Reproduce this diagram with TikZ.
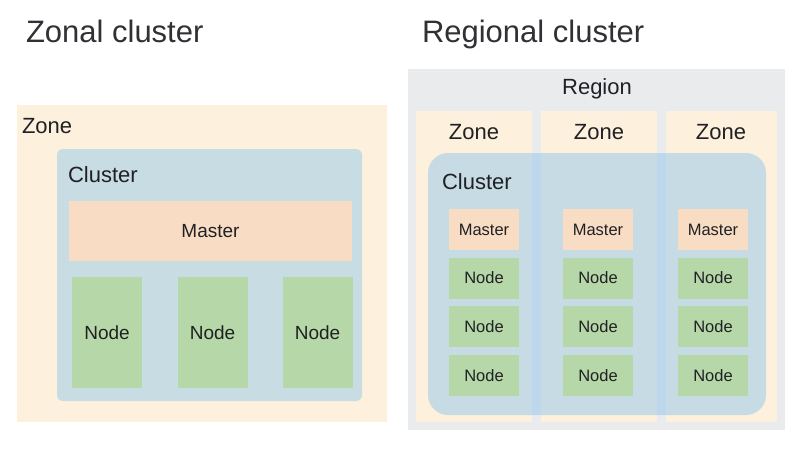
\documentclass[tikz,border=0pt]{standalone}
\usepackage{fontspec}
\setmainfont{Liberation Sans}
\begin{document}
\definecolor{ink}{HTML}{202124}
\definecolor{titleink}{HTML}{303134}
\definecolor{zonefill}{HTML}{FDF0DC}
\definecolor{regionfill}{HTML}{EAEBED}
\definecolor{clusterfill}{HTML}{C8DCE4}
\definecolor{clusterblue}{RGB}{135,195,238}
\definecolor{masterfill}{HTML}{F8DCC4}
\definecolor{nodefill}{HTML}{B6D7A8}
\begin{tikzpicture}[x=1pt,y=-1pt,
  every node/.style={text=ink, inner sep=0pt, outer sep=0pt},
  zonebox/.style={fill=zonefill, draw=none},
  regionbox/.style={fill=regionfill, draw=none},
  clusterbox/.style={fill=clusterfill, draw=none, rounded corners=6pt},
  masterbox/.style={fill=masterfill, draw=none},
  workerbox/.style={fill=nodefill, draw=none},
  title/.style={font=\fontsize{31}{36}\selectfont, text=titleink, anchor=base west},
  label/.style={font=\fontsize{22}{26}\selectfont},
  bigtext/.style={font=\fontsize{19}{23}\selectfont},
  smalltext/.style={font=\fontsize{16.5}{20}\selectfont}]
\useasboundingbox (0,0) rectangle (802,451);
\fill[white] (0,0) rectangle (802,451);

% ---------- zonal cluster ----------
\node[title] (t1) at (26,42) {Zonal cluster};
\node[zonebox, minimum width=370pt, minimum height=317pt] (lzone) at (202,263.5) {};
\node[label, anchor=west] (lzonelbl) at (22,126) {Zone};
\node[clusterbox, minimum width=305pt, minimum height=252pt] (lcluster) at (209.5,275) {};
\node[label, anchor=west] (lclusterlbl) at (68,175) {Cluster};
\node[masterbox, bigtext, minimum width=283pt, minimum height=60pt] (lmaster) at (210.5,231) {Master};
\node[workerbox, bigtext, minimum width=70pt, minimum height=111pt] (ln1) at (107,332.5) {Node};
\node[workerbox, bigtext, minimum width=70pt, minimum height=111pt] (ln2) at (212.5,332.5) {Node};
\node[workerbox, bigtext, minimum width=70pt, minimum height=111pt] (ln3) at (317.5,332.5) {Node};

% ---------- regional cluster ----------
\node[title] (t2) at (422,42) {Regional cluster};
\node[regionbox, minimum width=377pt, minimum height=361pt] (region) at (596.5,249.5) {};
\node[label] (regionlbl) at (597,89) {Region};
\node[zonebox, minimum width=116pt, minimum height=311pt] (rz1) at (474,266.5) {};
\node[zonebox, minimum width=116pt, minimum height=311pt] (rz2) at (599,266.5) {};
\node[zonebox, minimum width=111pt, minimum height=311pt] (rz3) at (721.5,266.5) {};
\node[label] (rz1lbl) at (474,132) {Zone};
\node[label] (rz2lbl) at (599,132) {Zone};
\node[label] (rz3lbl) at (721,132) {Zone};
% translucent cluster spanning the three zones
\node[fill=clusterblue, fill opacity=0.45, rounded corners=20pt,
      minimum width=338pt, minimum height=262pt] (rcluster) at (597,284) {};
\node[label, anchor=west] (rclusterlbl) at (442,182) {Cluster};
\foreach \c/\x in {1/484,2/598,3/713}{
  \node[masterbox, smalltext, minimum width=70pt, minimum height=41pt] (rm\c) at (\x,229.5) {Master};
  \node[workerbox, smalltext, minimum width=70pt, minimum height=41pt] (rn\c a) at (\x,278) {Node};
  \node[workerbox, smalltext, minimum width=70pt, minimum height=41pt] (rn\c b) at (\x,326.5) {Node};
  \node[workerbox, smalltext, minimum width=70pt, minimum height=41pt] (rn\c c) at (\x,375.5) {Node};
}
\end{tikzpicture}
\end{document}
